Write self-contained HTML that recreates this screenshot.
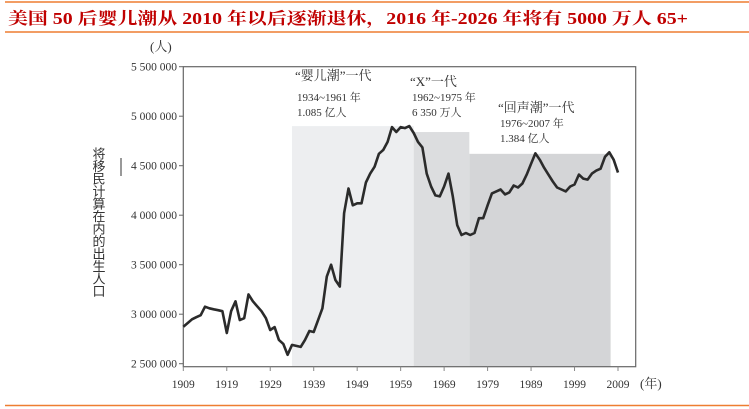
<!DOCTYPE html>
<html><head><meta charset="utf-8"><style>
body{margin:0;background:#fff;}
svg{display:block;}
.s{font-family:"Liberation Serif","Noto Serif CJK SC",serif;fill:#333;}
</style></head><body>
<svg width="749" height="409" viewBox="0 0 749 409">
<line x1="5" y1="2" x2="749" y2="2" stroke="#ee7d31" stroke-width="1.5"/>
<text x="8" y="24" font-size="16.5" font-weight="bold" fill="#c00000" font-family="'Liberation Serif','Noto Serif CJK SC',serif" textLength="680" lengthAdjust="spacingAndGlyphs">美国 50 后婴儿潮从 2010 年以后逐渐退休，2016 年-2026 年将有 5000 万人 65+</text>
<line x1="5" y1="32" x2="749" y2="32" stroke="#ee7d31" stroke-width="1.5"/>
<line x1="5" y1="405.5" x2="749" y2="405.5" stroke="#ee7d31" stroke-width="1.5"/>
<g id="shades"></g>
<g id="axes"></g>
<path id="line" fill="none" stroke="#2b2b2b" stroke-width="2.6" stroke-linejoin="round"/>
<text class="s" x="150" y="51" font-size="13">(人)</text>
<text class="s" x="640" y="388" font-size="13">(年)</text>
<line x1="121" y1="158" x2="121" y2="176" stroke="#333" stroke-width="1"/>
<text x="98" y="147" font-size="13" fill="#333" font-family="'Liberation Sans','Noto Sans CJK SC',sans-serif" style="writing-mode:vertical-rl;letter-spacing:-0.5px">将移民计算在内的出生人口</text>
<g>
<text class="s" x="295" y="80" font-size="13">“婴儿潮”一代</text>
<text class="s" x="297" y="101" font-size="11">1934~1961 年</text>
<text class="s" x="297" y="116" font-size="11">1.085 亿人</text></g>
<g>
<text class="s" x="410" y="86" font-size="13">“X”一代</text>
<text class="s" x="412" y="101" font-size="11">1962~1975 年</text>
<text class="s" x="412" y="116" font-size="11">6 350 万人</text></g>
<g>
<text class="s" x="498" y="112" font-size="13">“回声潮”一代</text>
<text class="s" x="500" y="127" font-size="11">1976~2007 年</text>
<text class="s" x="500" y="142" font-size="11">1.384 亿人</text></g>
</svg>
<script>
const years=[];for(let y=1909;y<=2009;y++)years.push(y);
const births=[2.874,2.91,2.948,2.97,2.99,3.076,3.06,3.05,3.04,3.03,2.81,3.03,3.13,2.94,2.96,3.20,3.13,3.08,3.03,2.96,2.84,2.87,2.74,2.70,2.59,2.69,2.68,2.67,2.74,2.83,2.82,2.94,3.06,3.38,3.50,3.345,3.28,4.02,4.27,4.10,4.12,4.12,4.33,4.42,4.49,4.62,4.66,4.74,4.89,4.84,4.89,4.88,4.90,4.83,4.74,4.685,4.42,4.29,4.20,4.19,4.29,4.42,4.19,3.90,3.80,3.82,3.80,3.82,3.97,3.97,4.10,4.22,4.24,4.26,4.21,4.23,4.30,4.28,4.32,4.41,4.52,4.625,4.56,4.48,4.41,4.34,4.28,4.26,4.24,4.29,4.31,4.41,4.37,4.36,4.42,4.45,4.47,4.59,4.635,4.56,4.43];
const yTicks=[2.5,3.0,3.5,4.0,4.5,5.0,5.5];
const yTickLabels=["2 500 000","3 000 000","3 500 000","4 000 000","4 500 000","5 000 000","5 500 000"];
const xTicks=[1909,1919,1929,1939,1949,1959,1969,1979,1989,1999,2009];
const genStart=[1934,1962,1974.8];
const genEnd=[1962,1974.8,2007.3];
const genTop=[4.90,4.84,4.62];
const genFill=["#edeef0","#dcdddf","#d4d5d7"];
const X=y=>183.3+(y-1909)*4.347;
const Y=v=>66.7+(5.5-v)*99;
const NS="http://www.w3.org/2000/svg";
const sh=document.getElementById('shades'),ax=document.getElementById('axes');
function mk(tag,attrs,parent){const e=document.createElementNS(NS,tag);for(const k in attrs)e.setAttribute(k,attrs[k]);parent.appendChild(e);return e;}
genStart.forEach((s,i)=>{const r=mk('rect',{x:X(s),y:Y(genTop[i]),width:X(genEnd[i])-X(s),height:366.7-Y(genTop[i]),fill:genFill[i]},sh);

});
const f=mk('rect',{x:183.3,y:66.7,width:452.4,height:300,fill:'none',stroke:'#666','stroke-width':1.2},ax);


yTicks.forEach((v,i)=>{mk('line',{x1:179,x2:183.3,y1:Y(v),y2:Y(v),stroke:'#666'},ax);
const t=mk('text',{x:177,y:Y(v)+4,'font-size':11.5,'text-anchor':'end',class:'s'},ax);t.textContent=yTickLabels[i];

});
xTicks.forEach(y=>{mk('line',{x1:X(y),x2:X(y),y1:366.7,y2:371,stroke:'#888'},ax);
const t=mk('text',{x:X(y),y:388,'font-size':11.5,'text-anchor':'middle',class:'s'},ax);t.textContent=y;

});
document.getElementById('line').setAttribute('d',births.map((v,i)=>(i?'L':'M')+X(years[i]).toFixed(1)+' '+Y(v).toFixed(1)).join(' '));
</script>
</body></html>
